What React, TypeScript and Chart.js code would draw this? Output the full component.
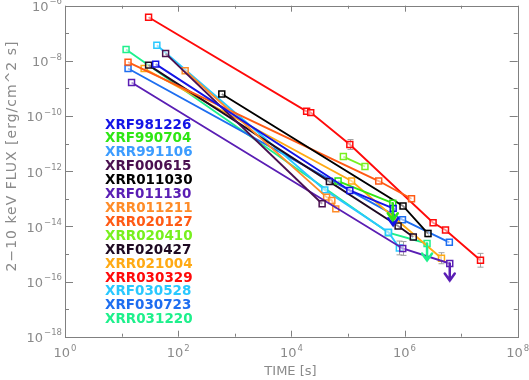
import { useEffect, useRef } from "react";
import { Chart, registerables } from "chart.js";

Chart.register(...registerables);

// ---- axis ticks (decade exponents) ----
const xDecades = [0, 1, 2, 3, 4, 5, 6, 7, 8];
const xLabelExps = [0, 2, 4, 6, 8];
const yDecades = [-6, -7, -8, -9, -10, -11, -12, -13, -14, -15, -16, -17, -18];
const yLabelExps = [-6, -8, -10, -12, -14, -16, -18];

// ---- series names and colours ----
const names = [
  "XRF981226", "XRF990704", "XRR991106", "XRF000615", "XRR011030",
  "XRF011130", "XRR011211", "XRR020127", "XRR020410", "XRF020427",
  "XRR021004", "XRR030329", "XRF030528", "XRF030723", "XRR031220",
];
const colors = [
  "#1414e6", "#2ee614", "#3c9cff", "#4a1050", "#000000",
  "#5a1eb4", "#ff8c28", "#ff5a14", "#78f01e", "#1e0a23",
  "#ffaa14", "#ff0a0a", "#28c8ff", "#1e6ef0", "#1ef08c",
];

// ---- data: time [s], flux [erg/cm^2 s], upper-limit flag, error (decades) ----
const tXRF981226 = [40, 1.08e5, 6.3e5];
const fXRF981226 = [7.6e-9, 2.0e-13, 4.5e-14];
const uXRF981226 = [0, 0, 1];
const eXRF981226 = [0, 0, 0];

const tXRF990704 = [6.7e4, 6.2e5];
const fXRF990704 = [4.4e-13, 6.9e-14];
const uXRF990704 = [0, 1];
const eXRF990704 = [0, 0];

const tXRR991106: number[] = [];
const fXRR991106: number[] = [];
const uXRR991106: number[] = [];
const eXRR991106: number[] = [];

const tXRF000615 = [60, 3.5e4];
const fXRF000615 = [1.84e-8, 6.6e-14];
const uXRF000615 = [0, 0];
const eXRF000615 = [0, 0];

const tXRR011030 = [590, 9.4e5, 2.6e6];
const fXRR011030 = [6.3e-10, 5.5e-14, 5.5e-15];
const uXRR011030 = [0, 0, 0];
const eXRR011030 = [0, 0, 0.12];

const tXRF011130 = [15, 9.3e5, 6.3e6];
const fXRF011130 = [1.65e-9, 1.58e-15, 4.5e-16];
const uXRF011130 = [0, 0, 1];
const eXRF011130 = [0, 0.25, 0];

const tXRR011211 = [133, 4.2e4, 5.2e4, 6.1e4];
const fXRR011211 = [4.4e-9, 1.15e-13, 8.7e-14, 4.3e-14];
const uXRR011211 = [0, 0, 0, 0];
const eXRR011211 = [0, 0, 0, 0];

const tXRR020127 = [13, 3.5e5, 1.33e6];
const fXRR020127 = [9.0e-9, 4.4e-13, 1.0e-13];
const uXRR020127 = [0, 0, 0];
const eXRR020127 = [0, 0, 0];

const tXRR020410 = [8.3e4, 2.0e5];
const fXRR020410 = [3.4e-12, 1.48e-12];
const uXRR020410 = [0, 0];
const eXRR020410 = [0, 0];

const tXRF020427 = [30, 4.7e4, 7.7e5, 1.43e6];
const fXRF020427 = [7.0e-9, 4.2e-13, 1.03e-14, 4.1e-15];
const uXRF020427 = [0, 0, 0, 0];
const eXRF020427 = [0, 0, 0, 0];

const tXRR021004 = [25, 1.16e5, 4.5e6];
const fXRR021004 = [5.3e-9, 4.4e-13, 7.0e-16];
const uXRR021004 = [0, 0, 0];
const eXRR021004 = [0, 0, 0.2];

const tXRR030329 = [30, 1.86e4, 2.2e4, 1.08e5, 3.2e6, 5.3e6, 2.2e7];
const fXRR030329 = [3.8e-7, 1.48e-10, 1.33e-10, 9.3e-12, 1.35e-14, 7.4e-15, 5.9e-16];
const uXRR030329 = [0, 0, 0, 0, 0, 0, 0];
const eXRR030329 = [0, 0, 0, 0.18, 0, 0, 0.25];

const tXRF030528 = [42, 3.9e4, 5.2e5, 8.1e5];
const fXRF030528 = [3.7e-8, 2.1e-13, 6.1e-15, 1.65e-15];
const uXRF030528 = [0, 0, 0, 0];
const eXRF030528 = [0, 0, 0, 0.25];

const tXRF030723 = [13, 9.2e5, 6.2e6];
const fXRF030723 = [5.3e-9, 1.75e-14, 2.65e-15];
const uXRF030723 = [0, 0, 0];
const eXRF030723 = [0, 0, 0];

const tXRR031220 = [12, 5.2e5, 2.5e6];
const fXRR031220 = [2.6e-8, 5.9e-15, 2.4e-15];
const uXRR031220 = [0, 0, 1];
const eXRR031220 = [0, 0, 0];

const seriesT = [tXRF981226, tXRF990704, tXRR991106, tXRF000615, tXRR011030, tXRF011130, tXRR011211, tXRR020127, tXRR020410, tXRF020427, tXRR021004, tXRR030329, tXRF030528, tXRF030723, tXRR031220];
const seriesF = [fXRF981226, fXRF990704, fXRR991106, fXRF000615, fXRR011030, fXRF011130, fXRR011211, fXRR020127, fXRR020410, fXRF020427, fXRR021004, fXRR030329, fXRF030528, fXRF030723, fXRR031220];
const seriesU = [uXRF981226, uXRF990704, uXRR991106, uXRF000615, uXRR011030, uXRF011130, uXRR011211, uXRR020127, uXRR020410, uXRF020427, uXRR021004, uXRR030329, uXRF030528, uXRF030723, uXRR031220];
const seriesE = [eXRF981226, eXRF990704, eXRR991106, eXRF000615, eXRR011030, eXRF011130, eXRR011211, eXRR020127, eXRR020410, eXRF020427, eXRR021004, eXRR030329, eXRF030528, eXRF030723, eXRR031220];

const AXIS = "#808080";
const TEXT = "#8a8a8a";
const FONT = '"DejaVu Sans", sans-serif';

const decor = {
  id: "decor",
  beforeDatasetsDraw(chart: any) {
    const { ctx, scales } = chart;
    const xs = scales.x, ys = scales.y;
    ctx.save();
    ctx.strokeStyle = "#a0a0a0";
    ctx.lineWidth = 1;
    seriesE.forEach((errs, si) => {
      errs.forEach((e, i) => {
        if (!e) return;
        const px = Math.round(xs.getPixelForValue(seriesT[si][i])) + 0.5;
        const f = seriesF[si][i];
        const y1 = ys.getPixelForValue(f * Math.pow(10, e));
        const y2 = ys.getPixelForValue(f / Math.pow(10, e));
        ctx.beginPath();
        ctx.moveTo(px, y1); ctx.lineTo(px, y2);
        ctx.moveTo(px - 3, y1); ctx.lineTo(px + 3, y1);
        ctx.moveTo(px - 3, y2); ctx.lineTo(px + 3, y2);
        ctx.stroke();
      });
    });
    ctx.restore();
  },
  afterDatasetsDraw(chart: any) {
    const { ctx, scales } = chart;
    const xs = scales.x, ys = scales.y;
    ctx.save();
    seriesU.forEach((ul, si) => {
      ul.forEach((u, i) => {
        if (!u) return;
        const px = xs.getPixelForValue(seriesT[si][i]);
        const py = ys.getPixelForValue(seriesF[si][i]);
        ctx.strokeStyle = colors[si];
        ctx.lineWidth = 2.5;
        ctx.lineCap = "round";
        ctx.beginPath();
        ctx.moveTo(px, py);
        ctx.lineTo(px, py + 17);
        ctx.moveTo(px - 5, py + 10);
        ctx.lineTo(px, py + 17);
        ctx.lineTo(px + 5, py + 10);
        ctx.stroke();
      });
    });
    ctx.restore();
  },
  afterDraw(chart: any) {
    const { ctx, chartArea: a, scales } = chart;
    const xs = scales.x, ys = scales.y;
    ctx.save();
    // frame
    ctx.strokeStyle = AXIS;
    ctx.lineWidth = 1;
    ctx.strokeRect(Math.round(a.left) + 0.5, Math.round(a.top) + 0.5, Math.round(a.right - a.left), Math.round(a.bottom - a.top));
    // ticks
    ctx.beginPath();
    xDecades.forEach((d) => {
      const px = Math.round(xs.getPixelForValue(Math.pow(10, d))) + 0.5;
      const len = d % 2 === 0 ? 6 : 3;
      ctx.moveTo(px, a.bottom); ctx.lineTo(px, a.bottom - len);
      ctx.moveTo(px, a.top); ctx.lineTo(px, a.top + len);
    });
    yDecades.forEach((d) => {
      const py = Math.round(ys.getPixelForValue(Math.pow(10, d))) + 0.5;
      const len = d % 2 === 0 ? 8 : 4;
      ctx.moveTo(a.left, py); ctx.lineTo(a.left + len, py);
      ctx.moveTo(a.right, py); ctx.lineTo(a.right - len, py);
    });
    ctx.stroke();

    // tick labels
    ctx.fillStyle = TEXT;
    ctx.textBaseline = "middle";
    ctx.textAlign = "left";
    const bigFont = `13px ${FONT}`;
    const smallFont = `8.5px ${FONT}`;
    const expText = (e: number) => (e < 0 ? "\u2212" + Math.abs(e) : String(e));
    xLabelExps.forEach((e) => {
      const px = xs.getPixelForValue(Math.pow(10, e));
      ctx.font = bigFont;
      const bw = ctx.measureText("10").width;
      ctx.font = smallFont;
      const ew = ctx.measureText(expText(e)).width;
      const left = px - (bw + ew + 1) / 2;
      ctx.font = bigFont;
      ctx.fillText("10", left, 354);
      ctx.font = smallFont;
      ctx.fillText(expText(e), left + bw + 1, 348.5);
    });
    yLabelExps.forEach((e) => {
      const py = ys.getPixelForValue(Math.pow(10, e));
      ctx.font = smallFont;
      const ew = ctx.measureText(expText(e)).width;
      ctx.font = bigFont;
      const bw = ctx.measureText("10").width;
      const right = 62;
      ctx.fillText("10", right - ew - bw - 1, py + 2);
      ctx.font = smallFont;
      ctx.fillText(expText(e), right - ew, py - 3.5);
    });

    // axis titles
    ctx.font = `13px ${FONT}`;
    ctx.textAlign = "center";
    ctx.fillText("TIME [s]", 290.5, 372);
    ctx.save();
    ctx.translate(12, 156);
    ctx.rotate(-Math.PI / 2);
    (ctx as any).letterSpacing = "1px";
    ctx.font = `14px ${FONT}`;
    ctx.fillText("2\u221210 keV FLUX [erg/cm^2 s]", 0, 0);
    ctx.restore();

    // legend text
    ctx.font = `bold 13.5px ${FONT}`;
    ctx.textAlign = "left";
    ctx.textBaseline = "middle";
    names.forEach((n, i) => {
      ctx.fillStyle = colors[i];
      ctx.fillText(n, 105, 125 + i * 13.91);
    });
    ctx.restore();
  },
};

export default function App() {
  const ref = useRef<HTMLCanvasElement | null>(null);
  useEffect(() => {
    if (!ref.current) return;
    const datasets = names.map((n, si) => ({
      label: n,
      data: seriesT[si].map((t, i) => ({ x: t, y: seriesF[si][i] })),
      showLine: true,
      borderColor: colors[si],
      backgroundColor: "rgba(255,255,255,0.55)",
      borderWidth: 1.9,
      pointStyle: "rect",
      pointRadius: 4.2,
      pointBorderWidth: 1.5,
      pointBorderColor: colors[si],
      pointBackgroundColor: "rgba(255,255,255,0.55)",
      tension: 0,
    }));
    const chart = new Chart(ref.current, {
      type: "scatter",
      data: { datasets },
      options: {
        animation: false,
        responsive: false,
        devicePixelRatio: 1,
        layout: { padding: { left: 65, right: 11.3, top: 4.7, bottom: 43.3 } },
        plugins: { legend: { display: false }, tooltip: { enabled: false } },
        scales: {
          x: { type: "logarithmic", min: 1, max: 1e8, display: false },
          y: { type: "logarithmic", min: 1e-18, max: 1e-6, display: false },
        },
      },
      plugins: [decor],
    } as any);
    return () => chart.destroy();
  }, []);
  return (
    <div style={{ position: "absolute", left: 0, top: 0, width: 529, height: 380, background: "#fff" }}>
      <canvas ref={ref} width={529} height={380} style={{ display: "block" }} />
    </div>
  );
}
